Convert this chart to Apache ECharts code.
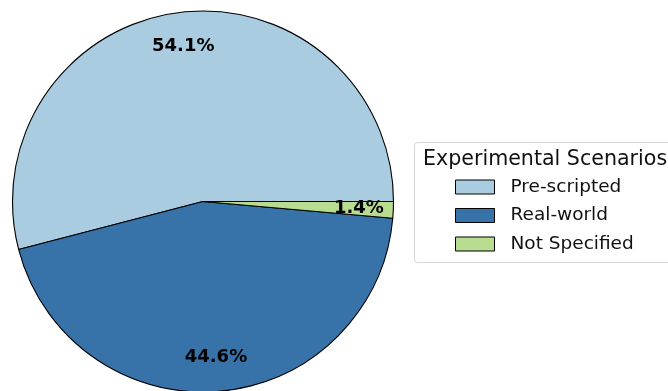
<!DOCTYPE html>
<html>
<head>
<meta charset="utf-8">
<script src="https://cdn.jsdelivr.net/npm/echarts@6/dist/echarts.min.js"></script>
<style>
  html, body { margin: 0; padding: 0; background: #fff; }
  #chart { width: 668px; height: 391px; }
</style>
</head>
<body>
<div id="chart"></div>
<script>
// Share of studies by experimental scenario (percent)
const categories = ['Pre-scripted', 'Real-world', 'Not Specified'];
const shares = [54.1, 44.6, 1.4];
const colors = ['#a9cce1', '#3773a9', '#b8dc90'];
const legendTitle = 'Experimental Scenarios';

const font = '"DejaVu Sans", sans-serif';
const center = [203, 201.5];
const R = 190.5;

const pieData = categories.map((name, i) => ({
  name,
  value: shares[i],
  itemStyle: { color: colors[i] }
}));

const chart = echarts.init(document.getElementById('chart'));
chart.setOption({
  animation: false,
  backgroundColor: '#ffffff',
  legend: {
    orient: 'vertical',
    left: 455,
    top: 177,
    padding: 0,
    itemWidth: 39,
    itemHeight: 14,
    itemGap: 8.5,
    selectedMode: false,
    icon: 'rect',
    itemStyle: { borderColor: '#000', borderWidth: 1 },
    textStyle: {
      fontFamily: font,
      fontSize: 18.5,
      color: '#111',
      lineHeight: 20,
      padding: [0, 0, 0, 11]
    },
    data: categories
  },
  graphic: [
    {
      type: 'rect',
      shape: { x: 414.5, y: 142.5, width: 270, height: 120, r: 3 },
      style: { fill: 'rgba(255,255,255,0.8)', stroke: '#d6d6d6', lineWidth: 1 },
      z: -1
    },
    {
      type: 'text',
      x: 423,
      y: 159.5,
      style: {
        text: legendTitle,
        fontFamily: font,
        fontSize: 20.6,
        fill: '#111',
        textVerticalAlign: 'middle'
      }
    }
  ],
  series: [
    {
      type: 'pie',
      center,
      radius: R,
      startAngle: 0,
      clockwise: false,
      avoidLabelOverlap: false,
      silent: true,
      itemStyle: { borderColor: '#000', borderWidth: 1.1 },
      label: { show: false },
      labelLine: { show: false },
      data: pieData
    },
    {
      // transparent ring that only positions the percentage labels
      type: 'pie',
      center,
      radius: [116, 190],
      startAngle: 0,
      clockwise: false,
      avoidLabelOverlap: false,
      silent: true,
      legendHoverLink: false,
      itemStyle: { color: 'transparent', borderWidth: 0 },
      label: {
        show: true,
        position: 'inside',
        formatter: p => p.value.toFixed(1) + '%',
        fontFamily: font,
        fontSize: 18,
        fontWeight: 'bold',
        color: '#000'
      },
      labelLine: { show: false },
      data: categories.map((name, i) => ({ name, value: shares[i] })),
      z: 3
    }
  ]
});
</script>
</body>
</html>
